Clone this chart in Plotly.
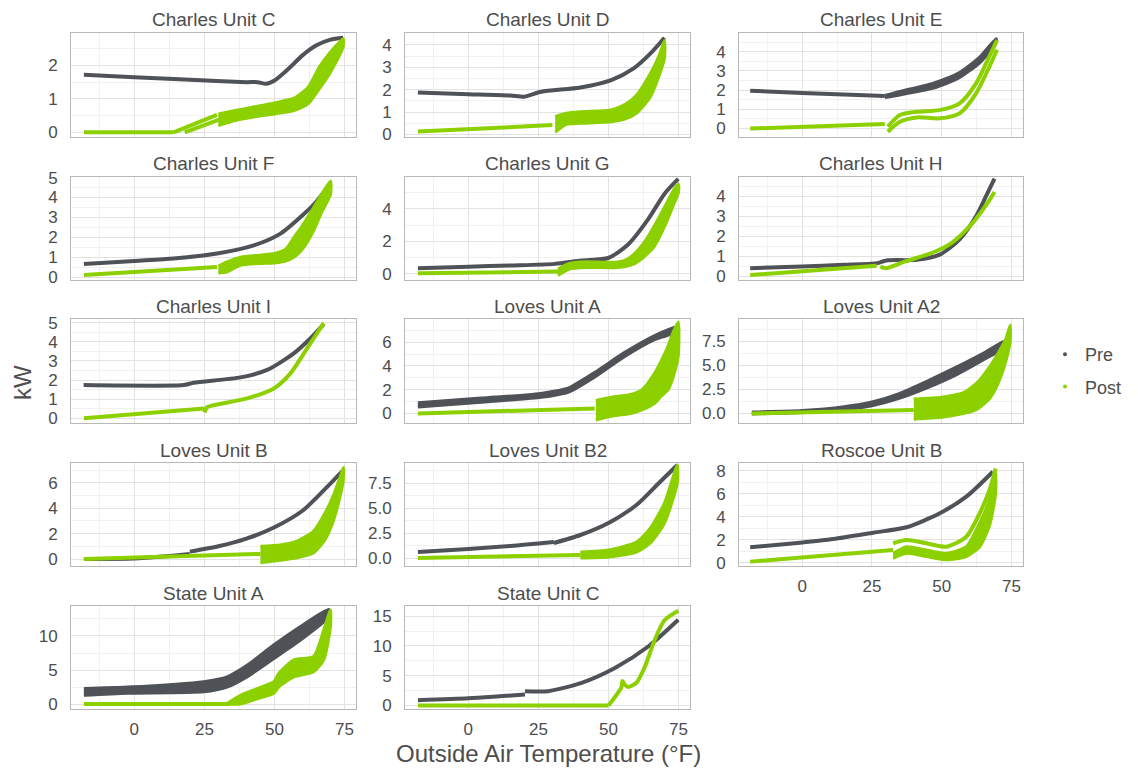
import plotly.graph_objects as go

PRE_COLOR = "#4F5257"
POST_COLOR = "#8CD000"
FONT = "Liberation Sans, Arial, sans-serif"
TXT = "#4D4D4D"

# ---------------- data (x = °F, y = kW) ----------------
# Charles Unit C
C_PRE_X = [-18, 0, 20, 40, 44, 47, 50, 55, 60, 65, 70, 74.5]
C_PRE_Y = [1.72, 1.65, 1.57, 1.5, 1.5, 1.45, 1.55, 1.9, 2.3, 2.6, 2.77, 2.83]
C_POST_X = [-18, 14, None, 14, 29.5, None, 18, 31]
C_POST_Y = [0, 0, None, 0, 0.52, None, 0, 0.4]
C_POSTB_X = [30, 36, 42, 50, 57, 62, 66, 70, 74.5]
C_POSTB_LO = [0.2, 0.35, 0.45, 0.55, 0.65, 0.85, 1.3, 1.8, 2.55]
C_POSTB_HI = [0.55, 0.65, 0.75, 0.88, 1.02, 1.35, 1.95, 2.4, 2.8]

# Charles Unit D
D_PRE_X = [-18, 0, 15, 20, 26, 40, 51, 59, 65, 70]
D_PRE_Y = [1.87, 1.8, 1.74, 1.69, 1.91, 2.1, 2.43, 2.95, 3.62, 4.32]
D_POST_X = [-18, 30]
D_POST_Y = [0.13, 0.42]
D_POSTB_X = [31, 35, 40, 51, 56, 60, 65, 68, 70]
D_POSTB_LO = [0.1, 0.45, 0.5, 0.57, 0.7, 0.95, 1.69, 2.6, 3.4]
D_POSTB_HI = [0.8, 0.95, 1.02, 1.1, 1.35, 1.75, 2.73, 3.5, 4.2]

# Charles Unit E
E_PRE_X = [-18.6, 0, 15, 29.6]
E_PRE_Y = [1.97, 1.85, 1.77, 1.69]
E_PREB_X = [29.6, 35, 47, 56, 63.6, 69.5]
E_PREB_LO = [1.62, 1.75, 2.1, 2.62, 3.42, 4.46]
E_PREB_HI = [1.72, 1.93, 2.36, 2.88, 3.72, 4.68]
E_POST_X = [-18.6, 29.6, None, 30.7, 35, 41, 49.2, 56.4, 62.3, 67, 69.8,
            None, 30.7, 35, 41, 49.2, 56.4, 62.3, 67, 69.8]
E_POST_Y = [0.0, 0.23, None, 0.09, 0.7, 0.87, 0.96, 1.31, 2.35, 3.74, 4.6,
            None, -0.17, 0.35, 0.58, 0.53, 0.79, 1.83, 3.2, 4.1]

# Charles Unit F
F_PRE_X = [-18, 0, 14, 29.5, 42.6, 52, 60.5, 65, 68.8, 70]
F_PRE_Y = [0.65, 0.81, 0.93, 1.18, 1.59, 2.17, 3.17, 3.8, 4.49, 4.74]
F_POST_X = [-18, 29.5]
F_POST_Y = [0.1, 0.51]
F_POSTB_X = [30, 33, 38, 45, 50, 54, 57, 60, 64, 67, 70]
F_POSTB_LO = [0.2, 0.25, 0.6, 0.68, 0.71, 0.8, 1.0, 1.4, 2.34, 3.3, 4.16]
F_POSTB_HI = [0.55, 0.76, 1.0, 1.1, 1.18, 1.4, 2.0, 2.6, 3.5, 4.2, 4.83]

# Charles Unit G
G_PRE_X = [-18, 0, 15, 30.8, 40.4, 49.9, 57, 64.2, 70.1, 74.9]
G_PRE_Y = [0.35, 0.45, 0.52, 0.62, 0.83, 0.98, 1.81, 3.37, 4.94, 5.83]
G_POST_X = [-18, 32]
G_POST_Y = [0.04, 0.15]
G_POSTB_X = [32, 36, 42, 52, 56, 59, 63, 66.4, 70, 73.6, 75]
G_POSTB_LO = [-0.1, 0.3, 0.4, 0.38, 0.45, 0.6, 1.1, 1.7, 2.9, 4.4, 5.0]
G_POSTB_HI = [0.3, 0.65, 0.75, 0.72, 0.85, 1.2, 2.0, 2.96, 4.1, 5.25, 5.5]

# Charles Unit H
H_PRE_X = [-18.6, 0, 15, 26.7, 30.2, 41, 49.3, 56.4, 62.4, 66, 68.9]
H_PRE_Y = [0.39, 0.48, 0.56, 0.64, 0.78, 0.81, 1.07, 1.83, 3.01, 4.03, 4.87]
H_POST_X = [-18.6, 26.7, None, 28, 30, 37, 46.4, 53.6, 60.7, 66.6, 68.9]
H_POST_Y = [0.05, 0.51, None, 0.47, 0.39, 0.73, 1.15, 1.66, 2.59, 3.69, 4.2]

# Charles Unit I
I_PRE_X = [-18.1, 17.6, 21.2, 37.9, 47.4, 56.9, 62.9, 67.6]
I_PRE_Y = [1.74, 1.74, 1.86, 2.14, 2.53, 3.4, 4.19, 4.93]
I_POST_X = [-18, 25, None, 25, 26, 28.3, 40.2, 49.8, 55.7, 61.7, 67.6]
I_POST_Y = [0.0, 0.51, None, 0.3, 0.58, 0.68, 1.04, 1.56, 2.35, 3.67, 4.98]

# Loves Unit A
LA_PREB_X = [-18, 4.6, 22.5, 30, 35.6, 45, 55.8, 66.5, 74.9]
LA_PREB_LO = [0.55, 0.95, 1.28, 1.5, 1.77, 3.05, 4.8, 6.22, 6.9]
LA_PREB_HI = [0.9, 1.3, 1.6, 1.85, 2.14, 3.45, 5.14, 6.56, 7.3]
LA_POST_X = [-18, 45.1]
LA_POST_Y = [0.0, 0.43]
LA_POSTB_X = [45.5, 52, 58, 62, 66.5, 69, 71.3, 73, 74.9]
LA_POSTB_LO = [-0.55, -0.2, 0.0, 0.3, 0.86, 1.5, 2.0, 3.0, 4.8]
LA_POSTB_HI = [1.1, 1.4, 1.6, 2.0, 3.4, 4.5, 5.7, 6.8, 7.7]

# Loves Unit A2
LA2_PREB_X = [-18, 0, 15, 25, 35, 45, 55, 65, 73]
LA2_PREB_LO = [-0.05, 0.1, 0.4, 0.8, 1.6, 2.7, 4.0, 5.6, 7.0]
LA2_PREB_HI = [0.15, 0.3, 0.7, 1.2, 2.1, 3.4, 4.8, 6.3, 7.6]
LA2_POST_X = [-18, 40]
LA2_POST_Y = [0.0, 0.35]
LA2_POSTB_X = [40, 50, 58, 63, 67, 70, 73, 74.5]
LA2_POSTB_LO = [-0.6, -0.4, 0.0, 0.5, 1.5, 3.0, 5.5, 7.5]
LA2_POSTB_HI = [1.5, 1.7, 2.2, 3.3, 4.8, 6.2, 7.8, 9.2]

# Loves Unit B
LB_PRE_X = [-18, 0, 10, 19.8, None, 19.8, 30, 40, 50, 60, 68, 74.6]
LB_PRE_Y = [0.0, 0.05, 0.2, 0.4, None, 0.58, 1.0, 1.6, 2.5, 3.8, 5.5, 7.0]
LB_POST_X = [-18, 45]
LB_POST_Y = [0.0, 0.4]
LB_POSTB_X = [45, 52, 58, 64, 68, 71, 73.5, 74.6]
LB_POSTB_LO = [-0.3, -0.1, 0.1, 0.5, 1.5, 3.0, 5.0, 6.3]
LB_POSTB_HI = [1.0, 1.1, 1.4, 2.2, 3.6, 5.0, 6.5, 7.2]

# Loves Unit B2
LB2_PRE_X = [-18, 0, 15, 30.5, None, 30.5, 40, 50, 60, 68, 74.6]
LB2_PRE_Y = [0.6, 0.9, 1.2, 1.6, None, 1.5, 2.3, 3.5, 5.3, 7.5, 9.3]
LB2_POST_X = [-18, 40]
LB2_POST_Y = [0.0, 0.3]
LB2_POSTB_X = [40, 50, 60, 65, 70, 74.6]
LB2_POSTB_LO = [0.0, 0.1, 0.6, 1.5, 3.5, 7.5]
LB2_POSTB_HI = [0.6, 0.8, 1.6, 3.0, 5.5, 9.3]

# Roscoe Unit B
RB_PRE_X = [-18.6, -0.7, 11.2, 25.5, 37.4, 49.3, 58.8, 68.3]
RB_PRE_Y = [1.34, 1.74, 2.06, 2.61, 3.08, 4.3, 5.74, 7.91]
RB_POST_X = [-18.6, 32.6, None, 32.6, 37.4, 44.5, 51.7, 58.8, 63.6, 67.1, 69.3]
RB_POST_Y = [0.09, 1.1, None, 1.69, 1.97, 1.69, 1.39, 2.26, 4.3, 6.32, 8.2]
RB_POSTB_X = [32.6, 37.4, 44.5, 51.7, 58.8, 63.6, 67.1, 69.3]
RB_POSTB_LO = [0.38, 0.82, 0.53, 0.25, 0.53, 1.39, 3.2, 6.0]
RB_POSTB_HI = [0.82, 1.39, 1.1, 0.82, 1.39, 3.48, 5.5, 7.8]

# State Unit A
SA_PREB_X = [-18, -2.6, 24.8, 33.1, 40.2, 49.8, 59.3, 69.4]
SA_PREB_LO = [1.3, 1.6, 1.8, 2.5, 4.0, 6.7, 9.4, 12.8]
SA_PREB_HI = [2.3, 2.5, 3.3, 4.0, 5.7, 8.7, 11.4, 13.9]
SA_POST_X = [-18, 34]
SA_POST_Y = [0.0, 0.0]
SA_POSTB_X = [33.1, 37.9, 44, 49.8, 51.5, 56.9, 64, 67.6, 70]
SA_POSTB_LO = [0.0, 0.0, 0.8, 1.6, 2.5, 4.0, 4.75, 6.5, 11.4]
SA_POSTB_HI = [0.1, 1.3, 2.3, 3.3, 4.5, 6.5, 7.0, 10.9, 13.8]

# State Unit C
SC_PRE_X = [-18, 0, 10, 20.2, None, 20.2, 28.5, 40.4, 52.3, 64.2, 74.9]
SC_PRE_Y = [0.89, 1.2, 1.5, 1.83, None, 2.4, 2.4, 3.8, 6.3, 9.9, 14.4]
SC_POST_X = [-18, 50, None, 50, 52, 54.6, 55, 56, 57, 60, 63, 66.5, 70, 74.9]
SC_POST_Y = [0, 0, None, 0, 1.2, 3.0, 4.1, 3.4, 3.1, 3.8, 6.5, 11, 14.3, 15.9]

# panel titles and y-axis scales
TITLES = ["Charles Unit C", "Charles Unit D", "Charles Unit E",
          "Charles Unit F", "Charles Unit G", "Charles Unit H",
          "Charles Unit I", "Loves Unit A", "Loves Unit A2",
          "Loves Unit B", "Loves Unit B2", "Roscoe Unit B",
          "State Unit A", "State Unit C"]
Y_RANGES = [[-0.14, 2.97], [-0.11, 4.53], [-0.44, 4.97],
            [-0.15, 5.03], [-0.37, 5.95], [-0.2, 4.95],
            [-0.25, 5.2], [-0.8, 7.95], [-1.0, 9.85],
            [-0.55, 7.56], [-0.8, 9.5], [-0.29, 8.67],
            [-0.72, 14.4], [-0.6, 16.7]]
Y_DTICK = [1, 1, 1, 1, 2, 1, 1, 2, 2.5, 2, 2.5, 2, 5, 5]
X_RANGE = [-22.6, 79.1]
X_TICKS = [0, 25, 50, 75]

PANEL_DATA = [
    ([("line", C_PRE_X, C_PRE_Y)],
     [("line", C_POST_X, C_POST_Y), ("band", C_POSTB_X, C_POSTB_LO, C_POSTB_HI)]),
    ([("line", D_PRE_X, D_PRE_Y)],
     [("line", D_POST_X, D_POST_Y), ("band", D_POSTB_X, D_POSTB_LO, D_POSTB_HI)]),
    ([("line", E_PRE_X, E_PRE_Y), ("band", E_PREB_X, E_PREB_LO, E_PREB_HI)],
     [("line", E_POST_X, E_POST_Y)]),
    ([("line", F_PRE_X, F_PRE_Y)],
     [("line", F_POST_X, F_POST_Y), ("band", F_POSTB_X, F_POSTB_LO, F_POSTB_HI)]),
    ([("line", G_PRE_X, G_PRE_Y)],
     [("line", G_POST_X, G_POST_Y), ("band", G_POSTB_X, G_POSTB_LO, G_POSTB_HI)]),
    ([("line", H_PRE_X, H_PRE_Y)],
     [("line", H_POST_X, H_POST_Y)]),
    ([("line", I_PRE_X, I_PRE_Y)],
     [("line", I_POST_X, I_POST_Y)]),
    ([("band", LA_PREB_X, LA_PREB_LO, LA_PREB_HI)],
     [("line", LA_POST_X, LA_POST_Y), ("band", LA_POSTB_X, LA_POSTB_LO, LA_POSTB_HI)]),
    ([("band", LA2_PREB_X, LA2_PREB_LO, LA2_PREB_HI)],
     [("line", LA2_POST_X, LA2_POST_Y), ("band", LA2_POSTB_X, LA2_POSTB_LO, LA2_POSTB_HI)]),
    ([("line", LB_PRE_X, LB_PRE_Y)],
     [("line", LB_POST_X, LB_POST_Y), ("band", LB_POSTB_X, LB_POSTB_LO, LB_POSTB_HI)]),
    ([("line", LB2_PRE_X, LB2_PRE_Y)],
     [("line", LB2_POST_X, LB2_POST_Y), ("band", LB2_POSTB_X, LB2_POSTB_LO, LB2_POSTB_HI)]),
    ([("line", RB_PRE_X, RB_PRE_Y)],
     [("line", RB_POST_X, RB_POST_Y), ("band", RB_POSTB_X, RB_POSTB_LO, RB_POSTB_HI)]),
    ([("band", SA_PREB_X, SA_PREB_LO, SA_PREB_HI)],
     [("line", SA_POST_X, SA_POST_Y), ("band", SA_POSTB_X, SA_POSTB_LO, SA_POSTB_HI)]),
    ([("line", SC_PRE_X, SC_PRE_Y)],
     [("line", SC_POST_X, SC_POST_Y)]),
]

# ---------------- layout geometry (pixels) ----------------
W, H = 1138, 768
COL_PX = [(71, 356), (405, 690), (739, 1023)]
ROW_PX = [(33, 137), (177, 280), (319, 423), (463, 566), (606, 709)]
BOTTOM_IDX = {11, 12, 13}

fig = go.Figure()
layout = dict(
    width=W, height=H, margin=dict(l=0, r=0, t=0, b=0, pad=0, autoexpand=False),
    paper_bgcolor="white", plot_bgcolor="white",
    font=dict(family=FONT, color=TXT),
    showlegend=True,
)
annotations = []


def add_piece(piece, color, xa, ya):
    if piece[0] == "line":
        _, xs, ys = piece
        fig.add_trace(go.Scatter(x=xs, y=ys, mode="lines",
                                 line=dict(color=color, width=4,
                                           shape="spline", smoothing=0.7),
                                 xaxis=xa, yaxis=ya, showlegend=False,
                                 hoverinfo="skip"))
    else:
        _, xs, lo, hi = piece
        fig.add_trace(go.Scatter(x=list(xs) + list(xs)[::-1],
                                 y=list(hi) + list(lo)[::-1],
                                 mode="lines", fill="toself", fillcolor=color,
                                 line=dict(color=color, width=3,
                                           shape="spline", smoothing=0.6),
                                 xaxis=xa, yaxis=ya, showlegend=False,
                                 hoverinfo="skip"))


for i, title in enumerate(TITLES):
    r, c = divmod(i, 3)
    n = i + 1
    xa = "x" if n == 1 else f"x{n}"
    ya = "y" if n == 1 else f"y{n}"
    x0, x1 = COL_PX[c]
    t, b = ROW_PX[r]
    dt = Y_DTICK[i]
    fmt = ".1f" if dt == 2.5 else "d"
    layout["xaxis" if n == 1 else f"xaxis{n}"] = dict(
        domain=[x0 / W, x1 / W], anchor=ya, range=X_RANGE,
        tickmode="array", tickvals=X_TICKS,
        showticklabels=i in BOTTOM_IDX, ticks="", ticklen=0,
        ticklabelstandoff=5, automargin=False,
        tickfont=dict(size=17, color=TXT, family=FONT),
        showgrid=True, gridcolor="#E2E2E2", gridwidth=1,
        minor=dict(showgrid=True, gridcolor="#F1F1F1", gridwidth=1,
                   tickvals=[-12.5, 12.5, 37.5, 62.5]),
        zeroline=False, showline=True, mirror=True,
        linecolor="#B8B8B8", linewidth=1, fixedrange=True,
    )
    layout["yaxis" if n == 1 else f"yaxis{n}"] = dict(
        domain=[1 - b / H, 1 - t / H], anchor=xa, range=Y_RANGES[i],
        tickmode="linear", tick0=0, dtick=dt, tickformat=fmt,
        ticks="", ticklen=0, ticklabelstandoff=9, automargin=False,
        tickfont=dict(size=17, color=TXT, family=FONT),
        showgrid=True, gridcolor="#E2E2E2", gridwidth=1,
        minor=dict(showgrid=True, gridcolor="#F1F1F1", gridwidth=1,
                   tick0=dt / 2, dtick=dt),
        zeroline=False, showline=True, mirror=True,
        linecolor="#B8B8B8", linewidth=1, fixedrange=True,
    )
    annotations.append(dict(
        text=title, xref="paper", yref="paper",
        x=(x0 + x1) / 2 / W, y=1 - (t - 13) / H,
        xanchor="center", yanchor="middle", showarrow=False,
        font=dict(size=19, color=TXT, family=FONT)))
    pre_pieces, post_pieces = PANEL_DATA[i]
    for p in pre_pieces:
        add_piece(p, PRE_COLOR, xa, ya)
    for p in post_pieces:
        add_piece(p, POST_COLOR, xa, ya)

# legend entries
fig.add_trace(go.Scatter(x=[None], y=[None], mode="markers", name="Pre",
                         marker=dict(color=PRE_COLOR, size=4),
                         legendgroup="pre", showlegend=True))
fig.add_trace(go.Scatter(x=[None], y=[None], mode="markers", name="Post",
                         marker=dict(color=POST_COLOR, size=4),
                         legendgroup="post", showlegend=True))

annotations.append(dict(text="kW", xref="paper", yref="paper",
                        x=22 / W, y=1 - 383 / H, textangle=-90,
                        xanchor="center", yanchor="middle", showarrow=False,
                        font=dict(size=24, color=TXT, family=FONT)))
annotations.append(dict(text="Outside Air Temperature (°F)", xref="paper",
                        yref="paper", x=548 / W, y=1 - 753 / H,
                        xanchor="center", yanchor="middle", showarrow=False,
                        font=dict(size=24, color=TXT, family=FONT)))

layout["annotations"] = annotations
layout["legend"] = dict(x=1045 / W, y=1 - 336 / H, xanchor="left",
                        yanchor="top", traceorder="grouped",
                        tracegroupgap=6, bgcolor="rgba(0,0,0,0)",
                        font=dict(size=18, color=TXT, family=FONT),
                        itemsizing="trace")
fig.update_layout(**layout)
fig.write_html("out.html",
               config={"displayModeBar": False},
               post_script="document.body.style.margin='0';"
                           "document.body.style.padding='0';")
